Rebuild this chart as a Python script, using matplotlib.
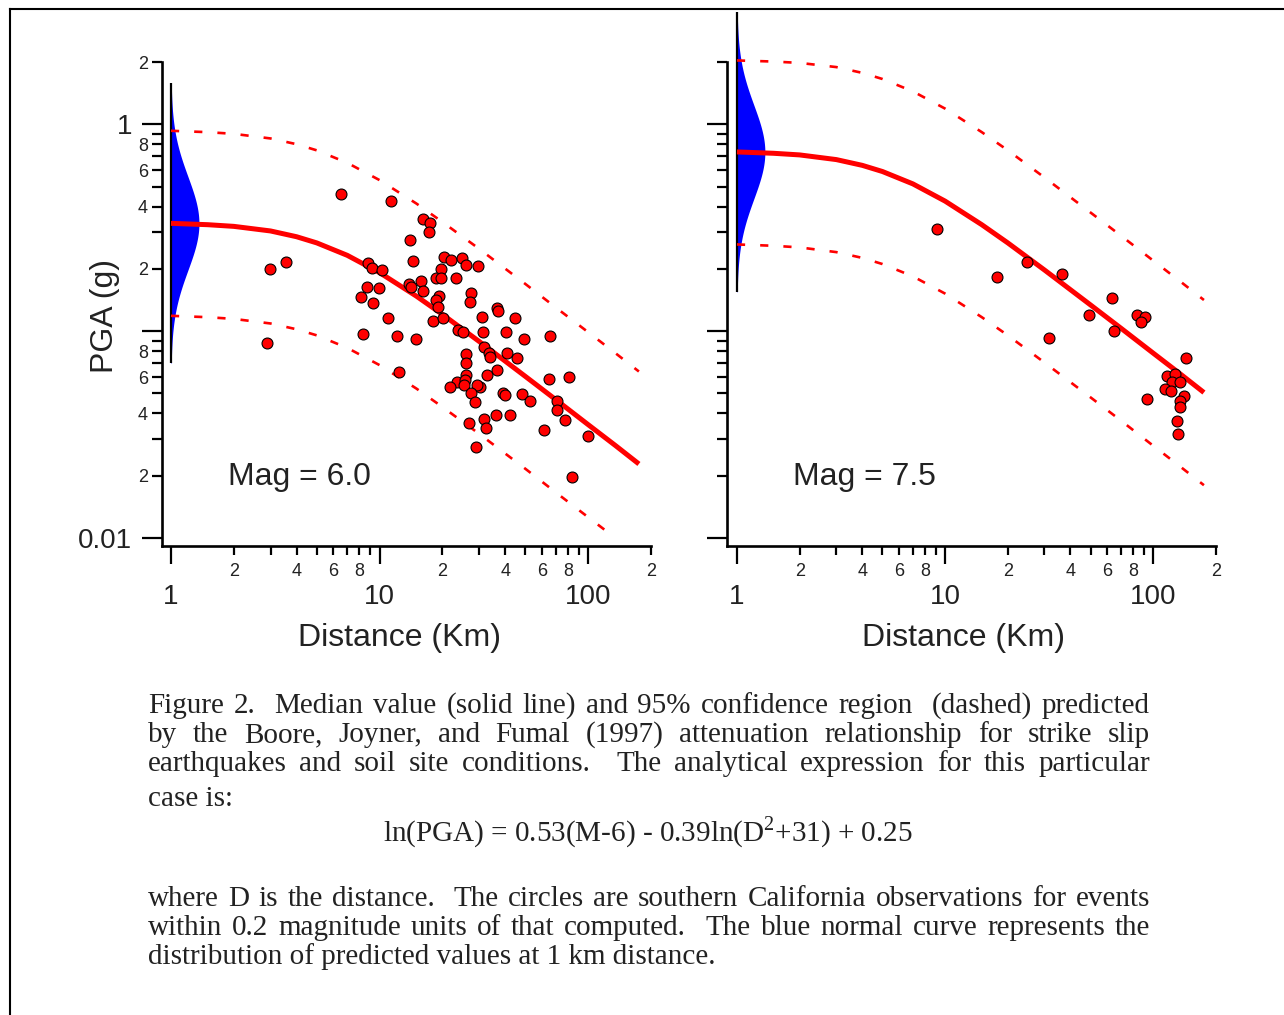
import numpy as np
import matplotlib
matplotlib.use("Agg")
import matplotlib.pyplot as plt
from matplotlib.ticker import FixedLocator, FixedFormatter
from matplotlib.lines import Line2D

plt.rcParams['font.family'] = ['Liberation Sans', 'DejaVu Sans']
plt.rcParams['mathtext.fontset'] = 'custom'
plt.rcParams['mathtext.rm'] = 'Liberation Serif'

# ---------------- data ----------------
# distance grid for the model curves (km)
dist_curve = [1, 1.5, 2, 3, 4, 5, 7, 10, 15, 20, 30, 50, 70, 100, 135, 175]

# Mag 6.0: median and 95% bounds (g)
med_m6 = [0.332, 0.327, 0.321, 0.305, 0.286, 0.267, 0.2325, 0.1918, 0.1477, 0.1205,
          0.0892, 0.0604, 0.0466, 0.0353, 0.0280, 0.0228]
up_m6 = [0.930, 0.916, 0.899, 0.854, 0.801, 0.748, 0.651, 0.537, 0.414, 0.337,
         0.250, 0.169, 0.130, 0.0988, 0.0783, 0.0638]
lo_m6 = [0.1186, 0.1168, 0.1146, 0.1089, 0.1021, 0.0954, 0.0830, 0.0685, 0.0528, 0.0430,
         0.0319, 0.0216, 0.0166, 0.0126, 0.0100]

# Mag 7.5
med_m75 = [0.735, 0.724, 0.711, 0.675, 0.633, 0.591, 0.515, 0.425, 0.327, 0.267,
           0.1975, 0.1337, 0.1032, 0.0782, 0.0620, 0.0505]
up_m75 = [2.035, 2.010, 1.980, 1.890, 1.772, 1.655, 1.442, 1.190, 0.916, 0.748,
          0.553, 0.374, 0.289, 0.219, 0.1736, 0.1414]
lo_m75 = [0.2625, 0.2586, 0.254, 0.241, 0.226, 0.211, 0.184, 0.1518, 0.1168, 0.0954,
          0.0705, 0.0478, 0.0369, 0.0279, 0.0221, 0.0180]

# spread of ln(PGA) at 1 km (blue normal curve)
sigma_ln = 0.52

# observations, Mag 6.0
obs_d_m6 = [6.51, 11.29, 16.23, 17.54, 17.16, 13.92, 8.76, 9.16, 10.22, 14.38,
            20.47, 22.11, 24.95, 26.08, 29.77, 19.80, 18.74, 19.80, 23.36, 15.71,
            13.77, 14.07, 16.23, 8.66, 9.89, 8.11, 9.26, 19.16, 18.74, 18.95,
            27.55, 27.25, 36.69, 37.10, 10.92, 18.13, 20.24, 31.11, 44.74, 8.29,
            12.06, 14.87, 23.88, 25.23, 31.45, 40.52, 49.41, 65.78, 31.80, 33.60,
            33.97, 40.96, 45.74, 26.08, 26.08, 36.69, 32.86, 12.33, 26.08, 23.61,
            25.79, 25.51, 21.87, 30.43, 29.44, 27.55, 28.80, 39.20, 40.08, 48.33,
            52.78, 65.06, 81.11, 71.08, 71.08, 77.62, 26.95, 31.80, 32.51, 36.29,
            42.36, 61.58, 100.0, 29.12, 83.83, 2.98, 3.55, 2.88]
obs_p_m6 = [0.459, 0.4246, 0.3477, 0.3325, 0.3008, 0.2752, 0.2131, 0.2015, 0.1971, 0.2180,
            0.2278, 0.2203, 0.2253, 0.2084, 0.2061, 0.1993, 0.1803, 0.1803, 0.1803, 0.1744,
            0.1687, 0.1632, 0.1560, 0.1632, 0.1613, 0.1460, 0.1366, 0.1476, 0.1412, 0.1306,
            0.1526, 0.1380, 0.1292, 0.1249, 0.1156, 0.1118, 0.1156, 0.1168, 0.1156, 0.0967,
            0.0946, 0.0915, 0.1011, 0.0989, 0.0989, 0.0989, 0.0915, 0.0946, 0.0837, 0.0783,
            0.0749, 0.0783, 0.0741, 0.0774, 0.0700, 0.0648, 0.0613, 0.0634, 0.0613, 0.0567,
            0.0580, 0.0548, 0.0536, 0.0536, 0.0548, 0.0502, 0.0454, 0.0502, 0.0491, 0.0496,
            0.0459, 0.0586, 0.0600, 0.0459, 0.0415, 0.0372, 0.0359, 0.0376, 0.0340, 0.0393,
            0.0393, 0.0332, 0.0311, 0.0275, 0.0197, 0.1993, 0.2155, 0.0875]

# observations, Mag 7.5
obs_d_m75 = [9.16, 17.74, 24.68, 36.29, 31.45, 48.87, 63.66, 65.06, 83.83, 91.56,
             87.62, 143.8, 93.61, 116.7, 127.4, 123.3, 134.7, 114.1, 121.9, 140.7,
             134.7, 134.7, 130.3, 131.7]
obs_p_m75 = [0.3111, 0.1823, 0.2155, 0.1885, 0.0925, 0.1195, 0.1443, 0.1000, 0.1195, 0.1168,
             0.1105, 0.0741, 0.0469, 0.0606, 0.0620, 0.0567, 0.0567, 0.0525, 0.0513, 0.0485,
             0.0459, 0.0429, 0.0367, 0.0318]

y_major = [0.01, 0.1, 1]
y_major_labels = ['0.01', '', '1']
x_major = [1, 10, 100]
x_major_labels = ['1', '10', '100']

caption_lines = [
    "Figure 2.  Median value (solid line) and 95% confidence region  (dashed) predicted",
    "by the Boore, Joyner, and Fumal (1997) attenuation relationship for strike slip",
    "earthquakes and soil site conditions.  The analytical expression for this particular",
]
caption_tail = [
    "where D is the distance.  The circles are southern California observations for events",
    "within 0.2 magnitude units of that computed.  The blue normal curve represents the",
]
equation = "ln(PGA) = 0.53(M-6) - 0.39ln(D$^2$+31) + 0.25"

# ---------------- figure ----------------
W, H = 1284, 1015
fig = plt.figure(figsize=(W / 100, H / 100), dpi=100)
txt_col = '#222222'


def minor_ticks(lo, hi):
    vals = []
    for e in range(-3, 3):
        for k in range(2, 10):
            v = k * 10.0 ** e
            if lo <= v <= hi * 1.0001:
                vals.append(v)
    return vals


def minor_labels(vals):
    out = []
    for v in vals:
        k = int(round(v / 10 ** np.floor(np.log10(v) + 1e-9)))
        out.append(str(k) if k in (2, 4, 6, 8) else '')
    return out


def setup_axes(left_px, one_px, show_ylabels):
    # left_px: spine position, one_px: where x = 1 sits
    ax = fig.add_axes([left_px / W, 1 - 546 / H, 489 / W, 484 / H])
    ax.set_xscale('log')
    ax.set_yscale('log')
    ax.set_xlim(10 ** (-(one_px - left_px) / 209), 200)
    ax.set_ylim(10 ** (-2 - 8 / 207), 2)
    for s in ['top', 'right']:
        ax.spines[s].set_visible(False)
    for s in ['left', 'bottom']:
        ax.spines[s].set_linewidth(1.9)
    ax.patch.set_alpha(0)

    ym = minor_ticks(0.01, 2)
    xm = minor_ticks(1, 200)
    ax.yaxis.set_major_locator(FixedLocator(y_major))
    ax.yaxis.set_minor_locator(FixedLocator(ym))
    ax.xaxis.set_major_locator(FixedLocator(x_major))
    ax.xaxis.set_minor_locator(FixedLocator(xm))
    ax.xaxis.set_major_formatter(FixedFormatter(x_major_labels))
    ax.xaxis.set_minor_formatter(FixedFormatter(minor_labels(xm)))
    if show_ylabels:
        ax.yaxis.set_major_formatter(FixedFormatter(y_major_labels))
        ax.yaxis.set_minor_formatter(FixedFormatter(minor_labels(ym)))

    ax.tick_params(axis='y', which='major', direction='out', length=14.4, width=1.6,
                   labelsize=20, pad=7, labelcolor=txt_col, labelleft=show_ylabels)
    ax.tick_params(axis='y', which='minor', direction='out', length=7.2, width=1.6,
                   labelsize=13, pad=3, labelcolor=txt_col, labelleft=show_ylabels)
    ax.tick_params(axis='x', which='major', direction='out', length=13, width=1.6,
                   labelsize=20, pad=14, labelcolor=txt_col)
    ax.tick_params(axis='x', which='minor', direction='out', length=6.5, width=1.6,
                   labelsize=13, pad=6, labelcolor=txt_col)

    ax.set_xlabel('Distance (Km)', fontsize=23, color=txt_col)
    ax.xaxis.label.set_va('center')
    return ax


def draw_panel(ax, med, up, lo, lo_dist, od, op, mag_text):
    d = np.array(dist_curve)
    # blue normal curve at 1 km
    z = np.linspace(-3, 3, 300)
    yy = med[0] * np.exp(sigma_ln * z)
    xx = 10 ** (0.134 * np.exp(-0.5 * z ** 2))
    ax.fill_betweenx(yy, 1, xx, color='#0000ff', lw=0, clip_on=False, zorder=2)
    ax.plot([1, 1], [med[0] * np.exp(-3 * sigma_ln), med[0] * np.exp(3 * sigma_ln)],
            color='black', lw=1.6, clip_on=False, zorder=3, solid_capstyle='butt')
    # model curves
    ax.plot(d, med, color='#ff0000', lw=3.6, zorder=4, solid_capstyle='butt')
    ax.plot(d, up, color='#ff0000', lw=1.9, dashes=(3.1, 5.7), zorder=4, clip_on=False)
    ax.plot(lo_dist, lo, color='#ff0000', lw=1.9, dashes=(3.1, 5.7), zorder=4)
    # observations
    ax.scatter(od, op, s=62, c='#ff0000', edgecolors='black', linewidths=0.8, zorder=5)
    ax.text(0.135, 0.1426, mag_text, transform=ax.transAxes, fontsize=23,
            color=txt_col, ha='left', va='center')


ax1 = setup_axes(162, 171, True)
ax1.xaxis.set_label_coords((399 - 162) / 489, -0.19)
draw_panel(ax1, med_m6, up_m6, lo_m6, dist_curve[:len(lo_m6)],
           obs_d_m6, obs_p_m6, 'Mag = 6.0')
ax1.set_ylabel('PGA (g)', fontsize=23, color=txt_col)
ax1.yaxis.label.set_va('center')
ax1.yaxis.set_label_coords((105 - 162) / 489, (546 - 316) / 484)

ax2 = setup_axes(727, 737, False)
ax2.xaxis.set_label_coords((964 - 727) / 489, -0.19)
draw_panel(ax2, med_m75, up_m75, lo_m75, dist_curve,
           obs_d_m75, obs_p_m75, 'Mag = 7.5')

# frame lines (top and left edges of the page box)
fig.add_artist(Line2D([10 / W, 1.01], [1 - 9 / H, 1 - 9 / H], transform=fig.transFigure,
                      color='black', lw=1.5))
fig.add_artist(Line2D([10 / W, 10 / W], [-0.01, 1 - 9 / H], transform=fig.transFigure,
                      color='black', lw=1.5))

# ---------------- caption (justified) ----------------
renderer = fig.canvas.get_renderer()
cap_kw = dict(family=['Liberation Serif', 'DejaVu Serif'], fontsize=21, color=txt_col,
              va='baseline', ha='left')
x_left, x_right = 148, 1150


def justified(line, y_px):
    words = line.split(' ')
    widths = []
    for w in words:
        t = fig.text(0, 0, w, **cap_kw)
        widths.append(t.get_window_extent(renderer).width if w else 0.0)
        t.remove()
    gap = (x_right - x_left - sum(widths)) / (len(words) - 1)
    x = x_left
    for w, wd in zip(words, widths):
        if w:
            fig.text(x / W, 1 - y_px / H, w, **cap_kw)
        x += wd + gap


for i, line in enumerate(caption_lines):
    justified(line, 713 + 29 * i)
fig.text(x_left / W, 1 - 806 / H, "case is:", **cap_kw)
eq_kw = dict(cap_kw)
eq_kw['ha'] = 'center'
fig.text(648 / W, 1 - 841 / H, equation, **eq_kw)
for i, line in enumerate(caption_tail):
    justified(line, 906 + 29 * i)
fig.text(x_left / W, 1 - 964 / H, "distribution of predicted values at 1 km distance.", **cap_kw)

fig.savefig('out.png', dpi=100)
